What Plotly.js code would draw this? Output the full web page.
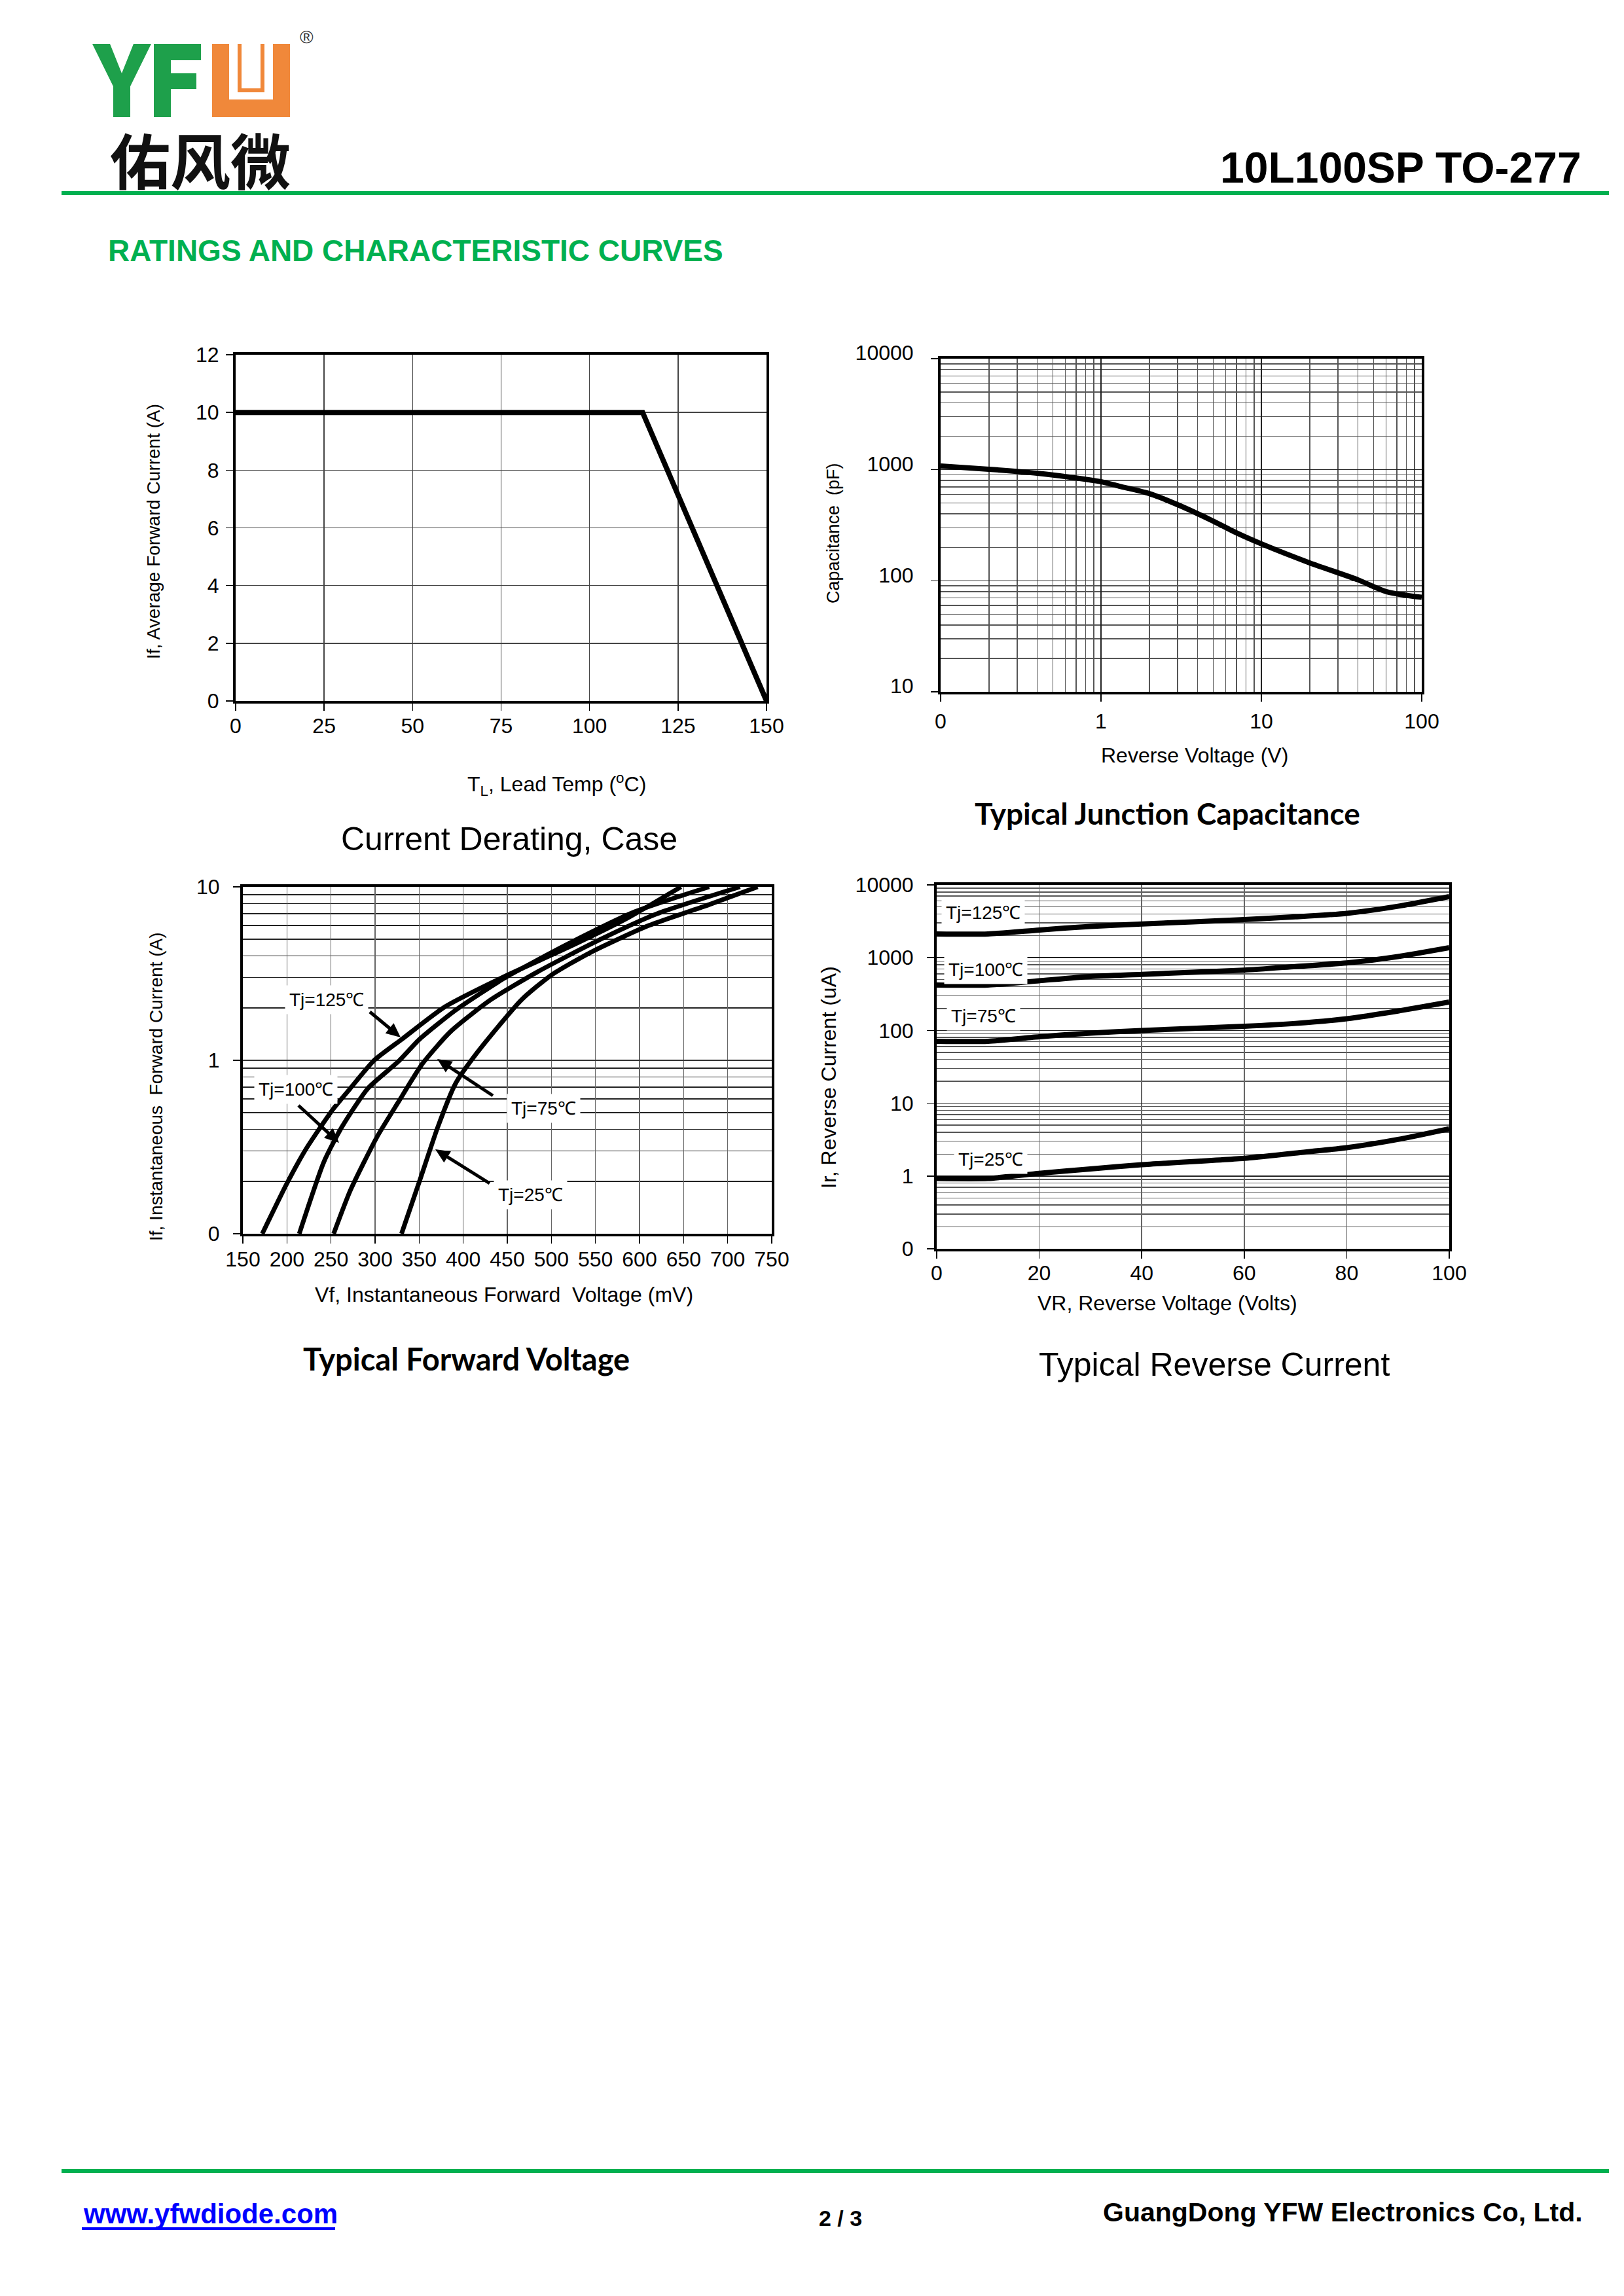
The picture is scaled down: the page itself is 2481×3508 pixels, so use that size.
<!DOCTYPE html>
<html>
<head>
<meta charset="utf-8">
<script src="https://cdn.plot.ly/plotly-3.0.1.min.js"></script>
<style>html,body{margin:0;padding:0;background:#fff;}#chart{width:2481px;height:3508px;}</style>
</head>
<body>
<div id="chart"></div>
<script>
// ---------------- DATA ----------------
// Chart 1: Current Derating, Case
const derateTemp = [0, 115, 150];
const derateCurrent = [10, 10, 0];

// Chart 2: Typical Junction Capacitance
const capVoltage = [0.1, 0.2, 0.4, 0.8, 1, 1.3, 2, 3, 5, 7, 10, 20, 40, 60, 100];
const capValue = [1080, 1010, 930, 820, 780, 710, 610, 485, 345, 270, 215, 145, 102, 80, 71];

// Chart 3: Typical Forward Voltage (mV vs A)
const vf125 = [172, 200, 222, 252, 272, 299, 331, 379, 446, 520, 585, 647];
const if125 = [0.1, 0.195, 0.31, 0.52, 0.69, 1.0, 1.33, 2.03, 3.03, 4.5, 6.55, 10];
const vf100 = [214, 242, 262, 292, 326, 351, 391, 446, 520, 595, 679];
const if100 = [0.1, 0.26, 0.41, 0.69, 0.98, 1.33, 1.94, 2.96, 4.72, 7.2, 10];
const vf75 = [253, 272, 302, 326, 354, 386, 431, 485, 555, 620, 714];
const if75 = [0.1, 0.178, 0.36, 0.57, 0.96, 1.47, 2.23, 3.25, 4.96, 7.0, 10];
const vf25 = [330, 351, 371, 391, 416, 466, 500, 545, 610, 679, 734];
const if25 = [0.1, 0.205, 0.41, 0.73, 1.11, 2.23, 3.1, 4.2, 5.97, 7.9, 10];
const fwdLabels = ["Tj=125\u2103", "Tj=100\u2103", "Tj=75\u2103", "Tj=25\u2103"];

// Chart 4: Typical Reverse Current (V vs uA)
const vr = [0, 10, 20, 30, 40, 60, 70, 80, 90, 100];
const ir125 = [2120, 2120, 2400, 2690, 2900, 3330, 3640, 4070, 5090, 6900];
const ir100 = [421, 421, 482, 551, 590, 675, 755, 845, 1035, 1370];
const ir75 = [71, 71, 82, 92, 100, 114, 125, 145, 185, 246];
const ir25 = [0.925, 0.925, 1.09, 1.25, 1.43, 1.75, 2.07, 2.45, 3.18, 4.46];
const revLabels = ["Tj=125\u2103", "Tj=100\u2103", "Tj=75\u2103", "Tj=25\u2103"];

// Tick labels
const capXTickVals = [0.1, 1, 10, 100];
const capXTickText = ["0", "1", "10", "100"];
const capYTickVals = [10, 100, 1000, 10000];
const capYTickText = ["10", "100", "1000", "10000"];
const fwdYTickVals = [0.1, 1, 10];
const fwdYTickText = ["0", "1", "10"];
const revYTickVals = [0.1, 1, 10, 100, 1000, 10000];
const revYTickText = ["0", "1", "10", "100", "1000", "10000"];

// ---------------- LAYOUT HELPERS ----------------
const W = 2481, H = 3508;
const px = v => v / W;
const py = v => 1 - v / H;
const ARIAL = "Liberation Sans, Arial, sans-serif";
const CAL = "Lato, Carlito, Calibri, sans-serif";
const GREEN = "#00B050";

function minorLog(lo, hi) {
  const out = [];
  for (let d = lo; d < hi; d++) for (let k = 2; k <= 9; k++) out.push(k * Math.pow(10, d));
  return out;
}

function axisBase(extra) {
  return Object.assign({
    showline: true, linewidth: 4, linecolor: "#000", mirror: true,
    ticks: "outside", ticklen: 11, tickwidth: 1.5, tickcolor: "#000",
    showgrid: true, gridcolor: "#444", gridwidth: 1.5, zeroline: false,
    tickfont: {family: ARIAL, size: 32, color: "#000"}, fixedrange: true
  }, extra);
}

const layout = {
  width: W, height: H,
  margin: {l: 0, r: 0, t: 0, b: 0, pad: 0},
  paper_bgcolor: "#fff", plot_bgcolor: "#fff",
  showlegend: false,
  font: {family: ARIAL, color: "#000"},
  xaxis: axisBase({domain: [px(360), px(1171)], range: [0, 150], tick0: 0, dtick: 25, anchor: "y", ticklabelstandoff: -4}),
  yaxis: axisBase({domain: [py(1071), py(542)], range: [0, 12], tick0: 0, dtick: 2, anchor: "x", ticklabelstandoff: 4}),
  xaxis2: axisBase({domain: [px(1437), px(2172)], type: "log", range: [-1, 2], tickmode: "array",
    tickvals: capXTickVals, ticktext: capXTickText, anchor: "y2", gridcolor: "#222", ticklabelstandoff: 3,
    minor: {tickmode: "array", tickvals: minorLog(-1, 2), showgrid: true, gridcolor: "#555", gridwidth: 1.5, ticks: ""}}),
  yaxis2: axisBase({domain: [py(1057), py(548)], type: "log", range: [1, 4], tickmode: "array",
    tickvals: capYTickVals, ticktext: capYTickText, anchor: "x2", gridcolor: "#222", ticklabelstandoff: 20,
    ticklabelshift: -9,
    minor: {tickmode: "array", tickvals: minorLog(1, 4), showgrid: true, gridcolor: "#555", gridwidth: 1.5, ticks: ""}}),
  xaxis3: axisBase({domain: [px(371), px(1179)], range: [150, 750], tick0: 150, dtick: 50, anchor: "y3",
    gridcolor: "#666", ticklabelstandoff: -3}),
  yaxis3: axisBase({domain: [py(1885), py(1355)], type: "log", range: [-1, 1], tickmode: "array",
    tickvals: fwdYTickVals, ticktext: fwdYTickText, anchor: "x3", gridcolor: "#333", ticklabelstandoff: 14,
    minor: {tickmode: "array", tickvals: minorLog(-1, 1), showgrid: true, gridcolor: "#222", gridwidth: 1.5, ticks: ""}}),
  xaxis4: axisBase({domain: [px(1431), px(2214)], range: [0, 100], tick0: 0, dtick: 20, anchor: "y4",
    gridcolor: "#666", ticklabelstandoff: -5}),
  yaxis4: axisBase({domain: [py(1908), py(1352)], type: "log", range: [-1, 4], tickmode: "array",
    tickvals: revYTickVals, ticktext: revYTickText, anchor: "x4", gridcolor: "#222", ticklabelstandoff: 14,
    minor: {tickmode: "array", tickvals: minorLog(-1, 4), showgrid: true, gridcolor: "#555", gridwidth: 1.5, ticks: ""}}),
  shapes: [],
  annotations: []
};

function txt(text, x, y, size, opts) {
  layout.annotations.push(Object.assign({
    text: text, x: px(x), y: py(y), xref: "paper", yref: "paper", showarrow: false,
    xanchor: "center", yanchor: "middle", font: {family: ARIAL, size: size, color: "#000"}
  }, opts || {}));
}
function P(x, y) { return px(x) + "," + py(y); }

// ---------------- HEADER ----------------
// logo: Y F (green) and stylised U (orange)
layout.shapes.push({type: "path", xref: "paper", yref: "paper", fillcolor: "#1EA04B", line: {width: 0},
  path: "M" + P(141, 67) + " L" + P(168, 67) + " L" + P(186, 112) + " L" + P(204, 67) + " L" + P(231, 67) +
        " L" + P(199, 132) + " L" + P(199, 179) + " L" + P(173, 179) + " L" + P(173, 132) + " Z"});
layout.shapes.push({type: "path", xref: "paper", yref: "paper", fillcolor: "#1EA04B", line: {width: 0},
  path: "M" + P(235, 67) + " L" + P(307, 67) + " L" + P(307, 92) + " L" + P(261, 92) + " L" + P(261, 112) +
        " L" + P(300, 112) + " L" + P(300, 136) + " L" + P(261, 136) + " L" + P(261, 179) + " L" + P(235, 179) + " Z"});
layout.shapes.push({type: "path", xref: "paper", yref: "paper", fillcolor: "#F0883A", line: {width: 0},
  path: "M" + P(324, 67) + " L" + P(350, 67) + " L" + P(350, 152) + " L" + P(417, 152) + " L" + P(417, 67) +
        " L" + P(443, 67) + " L" + P(443, 179) + " L" + P(324, 179) + " Z"});
layout.shapes.push({type: "path", xref: "paper", yref: "paper", line: {width: 6, color: "#F0883A"},
  path: "M" + P(366, 67) + " L" + P(366, 138) + " L" + P(401, 138) + " L" + P(401, 67)});
txt("\u00AE", 468, 56, 28, {font: {family: ARIAL, size: 28, color: "#333"}});
txt("<b>\u4F51\u98CE\u5FAE</b>", 306, 242, 92, {font: {family: "Noto Sans CJK SC", size: 92, color: "#111"}});

txt("<b>10L100SP TO-277</b>", 2418, 256, 66, {xanchor: "right"});
layout.shapes.push({type: "line", xref: "paper", yref: "paper", x0: px(94), x1: px(2458), y0: py(295), y1: py(295),
  line: {color: GREEN, width: 6}});
txt("<b>RATINGS AND CHARACTERISTIC CURVES</b>", 163, 383, 46, {xanchor: "left", font: {family: ARIAL, size: 46, color: GREEN}});

// ---------------- FOOTER ----------------
layout.shapes.push({type: "line", xref: "paper", yref: "paper", x0: px(94), x1: px(2458), y0: py(3317), y1: py(3317),
  line: {color: GREEN, width: 6}});
txt("<b>www.yfwdiode.com</b>", 125, 3382, 42, {xanchor: "left", font: {family: ARIAL, size: 42, color: "#0000FF"}});
layout.shapes.push({type: "line", xref: "paper", yref: "paper", x0: px(125), x1: px(512), y0: py(3405), y1: py(3405),
  line: {color: "#0000FF", width: 4}});
txt("<b>2 / 3</b>", 1284, 3389, 34);
txt("<b>GuangDong YFW Electronics Co, Ltd.</b>", 2420, 3380, 41, {xanchor: "right"});

// ---------------- AXIS & CHART TITLES ----------------
// chart 1
txt("If, Average Forward Current (A)", 235, 812, 28, {textangle: -90});
txt("T<sub>L</sub>, Lead Temp (<sup>o</sup>C)", 850, 1199, 32);
txt("Current Derating, Case", 778, 1282, 50);
// chart 2
txt("Capacitance  (pF)", 1273, 815, 27, {textangle: -90});
txt("Reverse Voltage (V)", 1825, 1154, 32);
txt("<b>Typical Junction Capacitance</b>", 1783, 1242, 46, {font: {family: CAL, size: 46, color: "#000"}});
// chart 3
txt("If, Instantaneous  Forward Current (A)", 239, 1660, 28, {textangle: -90});
txt("Vf, Instantaneous Forward  Voltage (mV)", 770, 1978, 32);
txt("<b>Typical Forward Voltage</b>", 712, 2076, 47, {font: {family: CAL, size: 47, color: "#000"}});
// chart 4
txt("Ir, Reverse Current (uA)", 1266, 1646, 32, {textangle: -90});
txt("VR, Reverse Voltage (Volts)", 1783, 1991, 32);
txt("Typical Reverse Current", 1855, 2085, 50);

// ---------------- CURVE LABELS ----------------
const lblFont = {family: ARIAL, size: 28, color: "#000"};
// forward voltage labels + arrows (arrows drawn as shapes)
const fwdLabelPos = [[499, 1527], [452, 1664], [830, 1693], [810, 1825]];
fwdLabels.forEach((t, i) => txt(t, fwdLabelPos[i][0], fwdLabelPos[i][1], 28, {bgcolor: "#fff", borderpad: 6, font: lblFont}));
const fwdArrows = [[612, 1585, 565, 1546], [518, 1746, 456, 1689], [668, 1618, 753, 1674], [665, 1756, 748, 1808]];
fwdArrows.forEach(a => {
  const hx = a[0], hy = a[1], tx = a[2], ty = a[3];
  const dx = hx - tx, dy = hy - ty, L = Math.hypot(dx, dy);
  const ux = dx / L, uy = dy / L, hl = 22, hw = 10;
  const bx = hx - ux * hl, by = hy - uy * hl;
  layout.shapes.push({type: "line", xref: "paper", yref: "paper", x0: px(tx), y0: py(ty), x1: px(bx + ux * 4), y1: py(by + uy * 4),
    line: {color: "#000", width: 5}});
  layout.shapes.push({type: "path", xref: "paper", yref: "paper", fillcolor: "#000", line: {width: 0},
    path: "M" + P(hx, hy) + " L" + P(bx - uy * hw, by + ux * hw) + " L" + P(bx + uy * hw, by - ux * hw) + " Z"});
});
// reverse current labels
const revLabelPos = [[1502, 1395], [1506, 1481], [1502, 1553], [1513, 1771]];
revLabels.forEach((t, i) => txt(t, revLabelPos[i][0], revLabelPos[i][1], 28, {bgcolor: "#fff", borderpad: 6, font: lblFont}));

// ---------------- TRACES ----------------
const blk = w => ({color: "#000", width: w});
const data = [
  {x: derateTemp, y: derateCurrent, xaxis: "x", yaxis: "y", mode: "lines", line: blk(8), cliponaxis: false},
  {x: capVoltage, y: capValue, xaxis: "x2", yaxis: "y2", mode: "lines", line: Object.assign(blk(8), {shape: "spline", smoothing: 0.8})},
  {x: vf125, y: if125, xaxis: "x3", yaxis: "y3", mode: "lines", line: Object.assign(blk(7), {shape: "spline", smoothing: 0.6})},
  {x: vf100, y: if100, xaxis: "x3", yaxis: "y3", mode: "lines", line: Object.assign(blk(7), {shape: "spline", smoothing: 0.6})},
  {x: vf75, y: if75, xaxis: "x3", yaxis: "y3", mode: "lines", line: Object.assign(blk(7), {shape: "spline", smoothing: 0.6})},
  {x: vf25, y: if25, xaxis: "x3", yaxis: "y3", mode: "lines", line: Object.assign(blk(7), {shape: "spline", smoothing: 0.6})},
  {x: vr, y: ir125, xaxis: "x4", yaxis: "y4", mode: "lines", line: Object.assign(blk(8), {shape: "spline", smoothing: 0.6})},
  {x: vr, y: ir100, xaxis: "x4", yaxis: "y4", mode: "lines", line: Object.assign(blk(8), {shape: "spline", smoothing: 0.6})},
  {x: vr, y: ir75, xaxis: "x4", yaxis: "y4", mode: "lines", line: Object.assign(blk(8), {shape: "spline", smoothing: 0.6})},
  {x: vr, y: ir25, xaxis: "x4", yaxis: "y4", mode: "lines", line: Object.assign(blk(8), {shape: "spline", smoothing: 0.6})}
];
data.forEach(d => { d.hoverinfo = "skip"; d.showlegend = false; });

Plotly.newPlot("chart", data, layout, {staticPlot: true, displayModeBar: false});
</script>
</body>
</html>
